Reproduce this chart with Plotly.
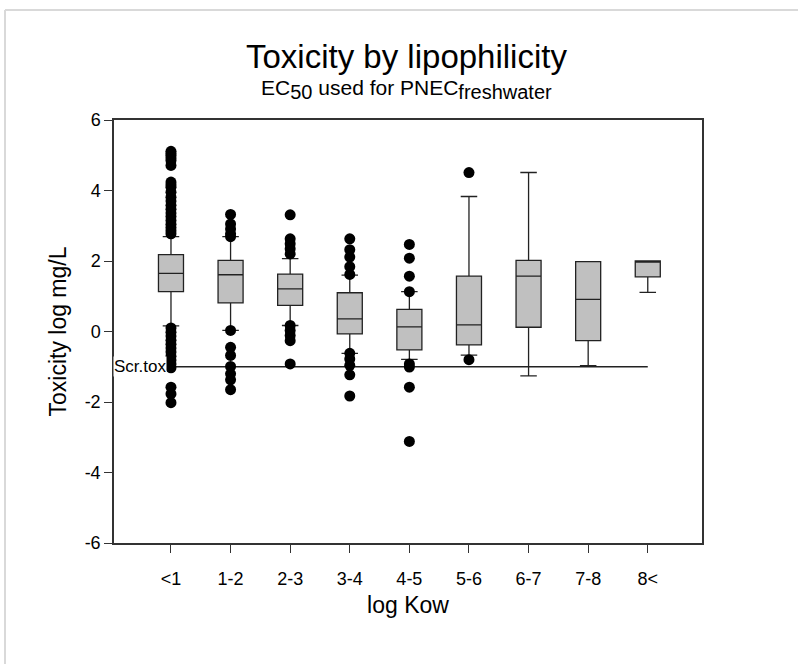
import plotly.graph_objects as go

# ---------------- data ----------------
categories = ["<1", "1-2", "2-3", "3-4", "4-5", "5-6", "6-7", "7-8", "8<"]

q1 = [1.13, 0.81, 0.74, -0.07, -0.52, -0.38, 0.12, -0.26, 1.55]
median = [1.65, 1.61, 1.21, 0.36, 0.13, 0.19, 1.57, 0.91, 2.00]
q3 = [2.18, 2.02, 1.63, 1.10, 0.63, 1.57, 2.02, 1.98, 2.00]
lowerfence = [0.16, 0.03, 0.17, -0.62, -0.79, -0.67, -1.26, -0.97, 1.11]
upperfence = [2.69, 2.69, 2.07, 1.60, 1.13, 3.83, 4.51, 1.98, 2.00]

out_lt1 = [5.11, 5.05, 4.99, 4.92, 4.85, 4.71, 4.24, 4.16, 4.09, 3.95, 3.81, 3.70,
           3.58, 3.47, 3.36, 3.26, 3.15, 3.04, 2.95, 2.86, 2.77,
           0.10, -0.02, -0.13, -0.25, -0.36, -0.47, -0.58, -0.70, -0.81, -0.92,
           -1.03, -1.58, -1.77, -2.02]
out_1_2 = [3.32, 3.05, 2.91, 2.77, 2.69, 0.03, -0.45, -0.68, -0.99, -1.20, -1.37, -1.65]
out_2_3 = [3.31, 2.63, 2.49, 2.35, 2.20, 0.17, 0.03, -0.11, -0.26, -0.92]
out_3_4 = [2.63, 2.32, 2.11, 1.84, 1.62, -0.62, -0.78, -0.96, -1.23, -1.83]
out_4_5 = [2.47, 2.08, 1.57, 1.13, -0.92, -1.01, -1.58, -3.12]
out_5_6 = [4.51, -0.80]
out_6_7 = []
out_7_8 = []
out_8 = []

scr_tox = -1.0
scr_label = "Scr.tox"

title_text = "Toxicity by lipophilicity"
subtitle_text = ("EC<sub><span style='font-size:20px'>50</span></sub> used for "
                 "PNEC<sub><span style='font-size:20px'>freshwater</span></sub>")
x_title = "log Kow"
y_title = "Toxicity log mg/L"
y_ticks = [-6, -4, -2, 0, 2, 4, 6]
y_ticktext = ["-6", "-4", "-2", "0", "2", "4", "6"]

# ---------------- figure ----------------
FONT = "Arial, Liberation Sans, sans-serif"
AX = "#333333"

fig = go.Figure()

fig.add_trace(go.Box(
    x=categories, q1=q1, median=median, q3=q3,
    lowerfence=lowerfence, upperfence=upperfence,
    fillcolor="#c0c0c0", line=dict(color="#222222", width=1.3),
    whiskerwidth=0.66, showlegend=False, hoverinfo="skip",
))

outlier_lists = [out_lt1, out_1_2, out_2_3, out_3_4, out_4_5, out_5_6, out_6_7, out_7_8, out_8]
ox, oy = [], []
for cat, vals in zip(categories, outlier_lists):
    for v in vals:
        ox.append(cat)
        oy.append(v)

fig.add_trace(go.Scatter(
    x=ox, y=oy, mode="markers",
    marker=dict(color="black", size=11, line=dict(width=0)),
    showlegend=False, hoverinfo="skip",
))

x_lo, x_hi = -0.956, 8.91

fig.add_shape(type="line", xref="x", yref="y", x0=x_lo, x1=8, y0=scr_tox, y1=scr_tox,
              line=dict(color="#222222", width=1.3), layer="below")

fig.add_annotation(x=x_lo, y=scr_tox, xref="x", yref="y", text=scr_label,
                   showarrow=False, xanchor="left", yanchor="middle",
                   font=dict(family=FONT, size=17, color="black"),
                   bgcolor="white", borderpad=0, xshift=-1)

# titles
fig.add_annotation(x=0.497, y=1.151, xref="paper", yref="paper", text=title_text,
                   showarrow=False, xanchor="center", yanchor="middle",
                   font=dict(family=FONT, size=33, color="black"))
fig.add_annotation(x=0.497, y=1.071, xref="paper", yref="paper", text=subtitle_text,
                   showarrow=False, xanchor="center", yanchor="middle",
                   font=dict(family=FONT, size=21, color="black"))

# light gray page border (top & left)
fig.add_shape(type="line", xref="paper", yref="paper",
              x0=(5 - 114) / 588, x1=(800 - 114) / 588,
              y0=(543 - 10) / 423, y1=(543 - 10) / 423,
              line=dict(color="#d9d9d9", width=2))
fig.add_shape(type="line", xref="paper", yref="paper",
              x0=(5 - 114) / 588, x1=(5 - 114) / 588,
              y0=(543 - 10) / 423, y1=(543 - 670) / 423,
              line=dict(color="#d9d9d9", width=2))

fig.update_layout(
    width=798, height=664,
    margin=dict(l=114, r=96, t=120, b=121),
    paper_bgcolor="white", plot_bgcolor="white",
    boxgap=0.4,
    font=dict(family=FONT, color="black"),
)

fig.update_xaxes(
    type="category", range=[x_lo, x_hi],
    showline=True, linecolor=AX, linewidth=1.5, mirror=True,
    ticks="outside", ticklen=8, tickwidth=1.3, tickcolor=AX,
    showgrid=False, zeroline=False,
    tickfont=dict(family=FONT, size=18, color="black"),
    ticklabelstandoff=11,
    title=dict(text=x_title, font=dict(family=FONT, size=23, color="black"), standoff=9),
)
fig.update_yaxes(
    range=[-6, 6], tickvals=y_ticks, ticktext=y_ticktext,
    showline=True, linecolor=AX, linewidth=1.5, mirror=True,
    ticks="outside", ticklen=8, tickwidth=1.3, tickcolor=AX,
    showgrid=False, zeroline=False,
    tickfont=dict(family=FONT, size=18, color="black"),
    title=dict(text=y_title, font=dict(family=FONT, size=23, color="black"), standoff=12),
)

fig.write_html("out.html")
